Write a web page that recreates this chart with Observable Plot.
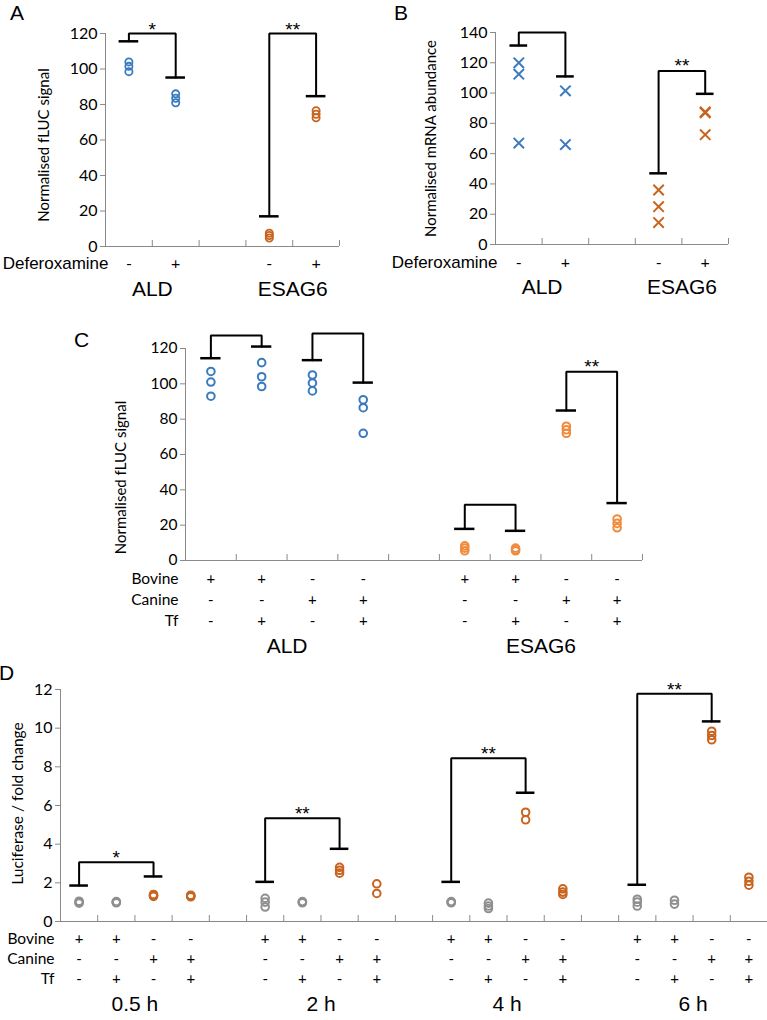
<!DOCTYPE html>
<html><head><meta charset="utf-8">
<script src="https://cdn.jsdelivr.net/npm/d3@7"></script>
<script src="https://cdn.jsdelivr.net/npm/@observablehq/plot@0.6"></script>
<style>
body{margin:0;background:#fff;}
#wrap{position:relative;width:767px;height:1020px;overflow:hidden;background:#fff;}
.panel{position:absolute;}
.letter{position:absolute;font-family:"Liberation Sans",Arial,sans-serif;font-size:21px;line-height:1;color:#000;}
</style></head>
<body><div id="wrap"></div>
<script>
// ---------- Panel A ----------
const aGenes = ["ALD", "ESAG6"];
const aDeferoxamine = ["-", "+"];
const aALD = [[98.5, 101.5, 104], [81, 83.5, 86]];
const aESAG6 = [[4.8, 6.2, 7.5], [72.5, 74.5, 76.5]];
const aBrackets = [["ALD", 0, 1, 120, 115.6, 95.2, "*"], ["ESAG6", 0, 1, 120, 17, 84.7, "**"]];
const aYTicks = [0, 20, 40, 60, 80, 100, 120];

// ---------- Panel B ----------
const bGenes = ["ALD", "ESAG6"];
const bDeferoxamine = ["-", "+"];
const bALD = [[120, 112.5, 67], [101.5, 66]];
const bESAG6 = [[36, 25, 14.5], [87, 87.5, 72.5]];
const bBrackets = [["ALD", 0, 1, 140, 131.4, 111, ""], ["ESAG6", 0, 1, 114.5, 47, 99.5, "**"]];
const bYTicks = [0, 20, 40, 60, 80, 100, 120, 140];

// ---------- Panel C ----------
const cGenes = ["ALD", "ESAG6"];
const cBovine = ["+", "+", "-", "-"];
const cCanine = ["-", "-", "+", "+"];
const cTf = ["-", "+", "-", "+"];
const cALD = [[93, 101, 107], [98.5, 104, 112], [96, 100.5, 105], [72, 86.5, 91]];
const cESAG6 = [[5.5, 7, 8.3], [5.5, 6, 7], [72, 74, 76], [18.5, 21, 23.5]];
const cBrackets = [["ALD", 0, 1, 127.3, 114.5, 121.1, ""], ["ALD", 2, 3, 128.5, 113.4, 100.7, ""],
                   ["ESAG6", 0, 1, 31.5, 17.9, 16.8, ""], ["ESAG6", 2, 3, 106.8, 84.9, 32.5, "**"]];
const cYTicks = [0, 20, 40, 60, 80, 100, 120];

// ---------- Panel D ----------
const dTimes = ["0.5 h", "2 h", "4 h", "6 h"];
const dBovine = ["+", "+", "-", "-"];
const dCanine = ["-", "-", "+", "+"];
const dTf = ["-", "+", "-", "+"];
const d05h = [[0.95, 1.0, 1.05], [0.97, 1.0, 1.03], [1.3, 1.35, 1.4], [1.28, 1.32, 1.36]];
const d2h = [[0.75, 1.0, 1.2], [0.97, 1.0, 1.03], [2.5, 2.65, 2.8], [1.45, 1.95]];
const d4h = [[0.97, 1.0, 1.03], [0.67, 0.8, 0.95], [5.26, 5.65], [1.4, 1.52, 1.69]];
const d6h = [[0.8, 1.0, 1.15], [0.9, 1.1], [9.4, 9.62, 9.84], [1.88, 2.08, 2.29]];
const dBrackets = [["0.5 h", 0, 2, 3.07, 1.86, 2.33, "*"], ["2 h", 0, 2, 5.34, 2.05, 3.76, "**"],
                   ["4 h", 0, 2, 8.45, 2.05, 6.66, "**"], ["6 h", 0, 2, 11.78, 1.9, 10.35, "**"]];
const dYTicks = [0, 2, 4, 6, 8, 10, 12];

// ---------- styles ----------
const BLUE = "#3A7BBF", ORANGE = "#C8641F", ORANGE_LIGHT = "#F08A3C", GRAY = "#8F8F8F", AXIS = "#8A8A8A";
const CAL = "Lato, 'Open Sans', sans-serif";
const ARIAL = "'Liberation Sans', Arial, sans-serif";

function panel(cfg) {
  const {groups, k, values, color, rows, brackets, yDomain, yTicks, yLabel,
    width, height, mt, mb, ml, mr, capHalf, dotR, dotSW, symbol,
    rowDy, groupDy, rowLabelDx, rowLabelFamily, rowLabelSize, signSize, groupSize,
    tickFont, yLabelSize, yLabelDx, yLabelDy, starDy} = cfg;
  const n = groups.length * (k + 1) - 1;
  const slot = (gi, ci) => gi * (k + 1) + ci;
  const pts = [];
  values.forEach((grp, gi) => grp.forEach((vals, ci) => vals.forEach(v => pts.push({x: slot(gi, ci), y: v, c: color(gi, ci)}))));
  const bounds = d3.range(n + 1).map(i => i - 0.5);
  const frameH = height - mt - mb;
  const br = brackets.map(([g, c0, c1, top, left, right, label], i) => {
    const gi = groups.indexOf(g);
    return {id: i, x0: slot(gi, c0), x1: slot(gi, c1), top, left, right, label};
  });
  const brLines = br.flatMap(b => [{id: b.id, x: b.x0, y: b.left}, {id: b.id, x: b.x0, y: b.top},
                                   {id: b.id, x: b.x1, y: b.top}, {id: b.id, x: b.x1, y: b.right}]);
  const caps = br.flatMap(b => [{x: b.x0, y: b.left}, {x: b.x1, y: b.right}]);
  const rowMarks = rows.flatMap((row, ri) => {
    const data = groups.flatMap((g, gi) => row.signs.map((s, ci) => ({x: slot(gi, ci), s})));
    return [
      Plot.text(data, {x: "x", text: "s", frameAnchor: "bottom", textAnchor: "middle", dy: rowDy[ri], fontSize: signSize, fontFamily: CAL, fill: "#000"}),
      Plot.text([row.label], {frameAnchor: "bottom-left", textAnchor: "end", dx: rowLabelDx, dy: rowDy[ri],
        fontSize: rowLabelSize, fontFamily: rowLabelFamily, fill: "#000"})
    ];
  });
  return Plot.plot({
    width, height, marginTop: mt, marginBottom: mb, marginLeft: ml, marginRight: mr,
    style: {fontFamily: CAL, fontSize: "14px", color: "#000", background: "transparent", overflow: "visible"},
    x: {domain: [-0.5, n - 0.5], axis: null},
    y: {domain: yDomain},
    color: {type: "identity"},
    marks: [
      Plot.ruleY([yDomain[0]], {stroke: AXIS, strokeWidth: 1}),
      Plot.ruleX([-0.5], {stroke: AXIS, strokeWidth: 1}),
      Plot.tickX(bounds, {x: d => d, stroke: AXIS, insetTop: frameH - 6}),
      Plot.axisY({ticks: yTicks, tickSize: 5, tickPadding: 3, fontSize: tickFont, label: null, stroke: AXIS, fill: "#000"}),
      Plot.text([yLabel], {frameAnchor: "left", textAnchor: "middle", rotate: -90, dx: yLabelDx, dy: yLabelDy, fontSize: yLabelSize, fontFamily: CAL, fill: "#000"}),
      Plot.dot(pts, {x: "x", y: "y", stroke: "c", r: dotR, strokeWidth: dotSW, symbol, fill: "none"}),
      Plot.line(brLines, {x: "x", y: "y", z: "id", stroke: "#000", strokeWidth: 2, strokeLinejoin: "miter"}),
      Plot.ruleY(caps, {y: "y", x1: d => d.x - capHalf, x2: d => d.x + capHalf, stroke: "#000", strokeWidth: 2.5}),
      Plot.text(br.filter(b => b.label), {x: b => (b.x0 + b.x1) / 2, y: "top", text: "label", dy: starDy, fontSize: 19, fontFamily: ARIAL, fill: "#000"}),
      ...rowMarks,
      Plot.text(groups, {x: (g, gi) => gi * (k + 1) + (k - 1) / 2, text: d => d, frameAnchor: "bottom", textAnchor: "middle", dy: groupDy,
        fontSize: groupSize, fontFamily: ARIAL, fill: "#000"})
    ]
  });
}

const wrap = document.getElementById("wrap");
function place(svg, left, top) {
  const div = document.createElement("div");
  div.className = "panel";
  div.style.left = left + "px";
  div.style.top = top + "px";
  div.appendChild(svg);
  wrap.appendChild(div);
}
function letter(t, left, top) {
  const d = document.createElement("div");
  d.className = "letter";
  d.textContent = t;
  d.style.left = left + "px";
  d.style.top = top + "px";
  wrap.appendChild(d);
}

// Panel A
place(panel({
  groups: aGenes, k: 2, values: [aALD, aESAG6], color: (gi) => gi === 0 ? BLUE : ORANGE,
  rows: [{label: "Deferoxamine", signs: aDeferoxamine}], brackets: aBrackets,
  yDomain: [0, 120], yTicks: aYTicks, yLabel: "Normalised fLUC signal",
  width: 380, height: 310, mt: 33, mb: 64, ml: 105, mr: 41, capHalf: 0.21,
  dotR: 3.6, dotSW: 1.8, symbol: "circle",
  rowDy: [22], groupDy: 49, rowLabelDx: 3, rowLabelFamily: ARIAL, rowLabelSize: 17, signSize: 16, groupSize: 21,
  tickFont: 16, yLabelSize: 15, yLabelDx: -61, yLabelDy: 5, starDy: -4
}), 0, 0);

// Panel B
place(panel({
  groups: bGenes, k: 2, values: [bALD, bESAG6], color: (gi) => gi === 0 ? BLUE : ORANGE,
  rows: [{label: "Deferoxamine", signs: bDeferoxamine}], brackets: bBrackets,
  yDomain: [0, 140], yTicks: bYTicks, yLabel: "Normalised mRNA abundance",
  width: 387, height: 310, mt: 32, mb: 66, ml: 115, mr: 39, capHalf: 0.19,
  dotR: 4.8, dotSW: 2, symbol: "times",
  rowDy: [23], groupDy: 49, rowLabelDx: 2, rowLabelFamily: ARIAL, rowLabelSize: 17, signSize: 16, groupSize: 21,
  tickFont: 16, yLabelSize: 15, yLabelDx: -64, yLabelDy: 0, starDy: -5
}), 380, 0);

// Panel C
place(panel({
  groups: cGenes, k: 4, values: [cALD, cESAG6], color: (gi) => gi === 0 ? BLUE : ORANGE_LIGHT,
  rows: [{label: "Bovine", signs: cBovine}, {label: "Canine", signs: cCanine}, {label: "Tf", signs: cTf}],
  brackets: cBrackets,
  yDomain: [0, 120], yTicks: cYTicks, yLabel: "Normalised fLUC signal",
  width: 767, height: 360, mt: 38, mb: 110, ml: 185, mr: 125, capHalf: 0.2,
  dotR: 3.8, dotSW: 2, symbol: "circle",
  rowDy: [23, 44, 65], groupDy: 92, rowLabelDx: -7, rowLabelFamily: CAL, rowLabelSize: 15.5, signSize: 15, groupSize: 21,
  tickFont: 15.5, yLabelSize: 15, yLabelDx: -64, yLabelDy: 23, starDy: -5
}), 0, 310);

// Panel D
place(panel({
  groups: dTimes, k: 4, values: [d05h, d2h, d4h, d6h], color: (gi, ci) => ci < 2 ? GRAY : ORANGE,
  rows: [{label: "Bovine", signs: dBovine}, {label: "Canine", signs: dCanine}, {label: "Tf", signs: dTf}],
  brackets: dBrackets,
  yDomain: [0, 12], yTicks: dYTicks, yLabel: "Luciferase / fold change",
  width: 767, height: 350, mt: 19, mb: 99, ml: 60, mr: 0, capHalf: 0.25,
  dotR: 3.8, dotSW: 2, symbol: "circle",
  rowDy: [22, 42, 62], groupDy: 89, rowLabelDx: -6, rowLabelFamily: CAL, rowLabelSize: 15.5, signSize: 15, groupSize: 21,
  tickFont: 16, yLabelSize: 15.5, yLabelDx: -42, yLabelDy: -2, starDy: -4
}), 0, 670);

letter("A", 10, 2);
letter("B", 394, 2);
letter("C", 74, 329);
letter("D", -1, 662);
</script>
</body></html>
